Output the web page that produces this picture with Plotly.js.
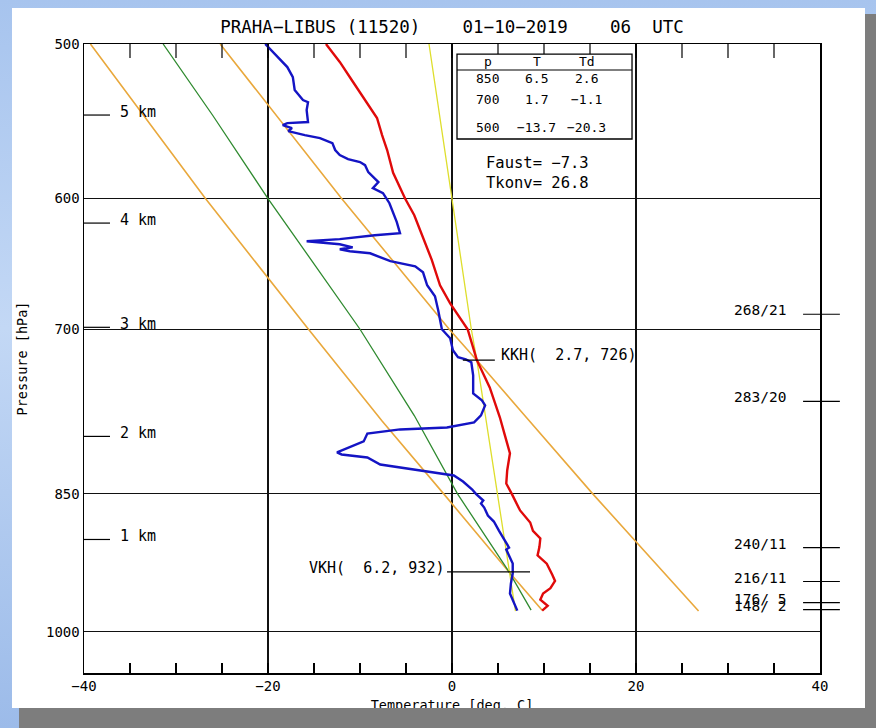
<!DOCTYPE html>
<html><head><meta charset="utf-8">
<script src="https://cdn.plot.ly/plotly-3.0.1.min.js"></script>
<style>
html,body{margin:0;padding:0;width:876px;height:728px;overflow:hidden;}
body{background:linear-gradient(180deg,#a7c4ee 0%,#c3d8f5 45%,#9cbbe9 100%);position:relative;}
#panel{position:absolute;left:12px;top:8px;width:853px;height:700px;background:#fff;}
#shR{position:absolute;left:865px;top:14px;width:11px;height:714px;background:#7d7d7d;}
#shB{position:absolute;left:19px;top:708px;width:857px;height:20px;background:#7d7d7d;z-index:5;}
#chart{position:absolute;left:0;top:0;width:876px;height:728px;z-index:2;}
</style></head><body>
<div id="panel"></div><div id="shR"></div>
<div id="chart"></div><div id="shB"></div>
<script>
// ---- data ----
const titleText = 'PRAHA\u2212LIBUS (11520)    01\u221210\u22122019    06  UTC';
const xTickVals = [-40, -20, 0, 20, 40];
const xMinorTicks = [-35, -30, -25, -20, -15, -10, -5, 0, 5, 10, 15, 20, 25, 30, 35];
const yTickVals = [500, 600, 700, 850, 1000];

// temperature profile (red)
const tempP = [500,510.7,521.7,534.2,545.6,556.7,566.6,582,600,611.9,628,645,664.6,679,700,726,749.7,776.6,793.4,810.3,826.9,839.7,850,866.8,879.2,888,896,905,914,923,935,942,950,956,963,970,975.5];
const tempT = [-13.7,-12.2,-10.9,-9.45,-8.15,-7.6,-7.05,-6.4,-5.1,-4.1,-3.15,-2.2,-1.3,-0.2,1.7,2.7,4.1,5.2,5.75,6.3,6.0,5.9,6.5,7.4,8.5,8.8,9.6,9.5,9.3,10.3,10.9,11.2,10.7,9.9,9.6,10.4,9.8];

// dew point profile (blue)
const dewP = [500,504.7,509.5,513.8,519.9,527.9,534.2,535.5,540.5,548.2,548.9,550.2,552.1,554.1,556.7,558.7,562,566.6,570,572.7,574.7,576.8,581.6,588.5,592.7,596.2,603.3,610.4,616.9,625,626.5,629.4,631,633.2,635.5,637,638.5,640,646,649.9,654.5,664.6,673.3,684.5,694.3,700,707.5,717.6,723.5,725.3,727.8,739.1,755,761.3,765.8,774.9,781.3,786,787.8,789.7,791.6,799,804.7,809.5,811.4,814.3,821.1,825,829.8,831.8,837.7,845.7,850,856.7,859.7,863.8,872,878.2,887.6,898.1,905.6,907.7,922.9,933.8,944.9,956.1,964,975.5];
const dewT = [-20.3,-19.5,-18.7,-17.9,-17.3,-17.1,-16.2,-15.65,-15.8,-15.65,-17.9,-18.4,-17.4,-17.8,-16.0,-14.35,-13.0,-12.7,-12.2,-11.3,-10.0,-9.45,-9.1,-8.0,-8.6,-7.5,-6.8,-6.4,-6.0,-5.65,-8.4,-12.2,-15.8,-12.2,-10.8,-12.2,-11.1,-8.9,-6.7,-4.0,-3.15,-2.7,-1.85,-1.5,-1.2,-1.1,-0.2,0.1,0.65,1.5,2.1,2.3,2.3,3.25,3.6,3.15,2.4,-0.55,-5.65,-7.5,-9.2,-9.6,-11.3,-12.5,-12.0,-9.2,-7.8,-4.8,-1.5,0.2,1.2,2.2,2.6,3.4,3.15,3.5,3.9,4.55,5.1,5.75,6.2,5.9,6.6,6.6,6.4,6.3,6.6,7.1];

// dry adiabat through VKH (orange, left)
const dryVKHP = [500,600,700,780,850,932,975];
const dryVKHT = [-39.3,-26.8,-15.6,-7.6,-0.9,6.2,9.8];
// dry adiabat through KKH down to Tkonv (orange, right)
const dryKKHP = [500,600,700,726,775,850,976];
const dryKKHT = [-25.2,-12.0,-0.3,2.7,7.9,15.3,26.8];
// moist adiabat through VKH (green)
const moistP = [500,544,600,700,775,850,932,975];
const moistT = [-31.4,-26.0,-20.0,-10.0,-4.1,0.6,6.2,8.6];
// mixing ratio line (yellow)
const mixP = [500,600,623,700,726,807,850,932,976];
const mixT = [-2.5,0.0,0.5,2.1,2.7,4.2,4.9,6.2,6.9];

// height marks (left)
const kmLabels = ['5 km','4 km','3 km','2 km','1 km'];
const kmP = [543.7,617.6,698.4,794.3,897];
// wind marks (right)
const windLabels = ['268/21','283/20','240/11','216/11','176/ 5','148/ 2'];
const windP = [687.7,762.2,905.6,942.6,966.3,974.4];

// table
const tblP = ['850','700','500'];
const tblT = [6.5,1.7,-13.7];
const tblTd = [2.6,-1.1,-20.3];
const faust = -7.3, tkonv = 26.8;
const kkh = {t:2.7, p:726};
const vkh = {t:6.2, p:932};

// ---- drawing ----
const MONO = 'DejaVu Sans Mono, monospace';
const L = v => Math.log10(v);
const fmt = v => (v < 0 ? '\u2212' : '') + Math.abs(v).toFixed(1);
const padL = (s, n) => (' '.repeat(Math.max(0, n - s.length)) + s);

function line(x, y, color, width) {
  return {type:'scatter', mode:'lines', x:x, y:y, line:{color:color, width:width}, hoverinfo:'skip', showlegend:false};
}
const pTop = yTickVals[0];
const traces = [
  line(dryVKHT, dryVKHP, '#e9a83c', 1.6),
  line(dryKKHT, dryKKHP, '#e9a83c', 1.6),
  line(moistT, moistP, '#2f8a2f', 1.3),
  line(mixT, mixP, '#dede2c', 1.3),
  line(dewT, dewP, '#1414c4', 2.4),
  line(tempT, tempP, '#e00a0a', 2.4),
  // mirrored ticks along the top border: vertical line markers, half clipped by the plot area
  {type:'scatter', mode:'markers', x:xMinorTicks, y:xMinorTicks.map(() => pTop), cliponaxis:true,
   marker:{symbol:'line-ns-open', size:20, color:'#000', line:{color:'#000', width:1.2}}, hoverinfo:'skip', showlegend:false}
];

const shapes = [];
const ann = [];
kmP.forEach((p, i) => {
  shapes.push({type:'line', xref:'paper', yref:'y', x0:0, x1:0.0353, y0:p, y1:p, line:{color:'#000', width:1.2}});
  ann.push({xref:'paper', yref:'y', x:0.0465, y:L(p), xanchor:'left', yanchor:'middle', yshift:3, text:kmLabels[i], showarrow:false, font:{family:MONO, size:15, color:'#000'}});
});
windP.forEach((p, i) => {
  shapes.push({type:'line', xref:'paper', yref:'y', x0:0.977, x1:1.027, y0:p, y1:p, line:{color:'#000', width:1.2}});
  ann.push({xref:'paper', yref:'y', x:0.956, y:L(p), xanchor:'right', yanchor:'middle', yshift:4, text:windLabels[i], showarrow:false, font:{family:MONO, size:14.5, color:'#000'}});
});
// KKH / VKH markers
shapes.push({type:'line', xref:'x', xsizemode:'pixel', xanchor:kkh.t, x0:-14, x1:18, yref:'y', y0:kkh.p, y1:kkh.p, line:{color:'#000', width:1.2}});
shapes.push({type:'line', xref:'x', xsizemode:'pixel', xanchor:vkh.t, x0:-62, x1:21, yref:'y', y0:vkh.p, y1:vkh.p, line:{color:'#000', width:1.2}});
ann.push({xref:'x', yref:'y', x:kkh.t, y:L(kkh.p), xanchor:'left', yanchor:'middle', xshift:22, yshift:5,
  text:'KKH(' + padL(kkh.t.toFixed(1), 5) + ', ' + kkh.p + ')', showarrow:false, font:{family:MONO, size:15, color:'#000'}});
ann.push({xref:'x', yref:'y', x:vkh.t, y:L(vkh.p), xanchor:'right', yanchor:'middle', xshift:-63, yshift:4,
  text:'VKH(' + padL(vkh.t.toFixed(1), 5) + ', ' + vkh.p + ')', showarrow:false, font:{family:MONO, size:15, color:'#000'}});

// table box
shapes.push({type:'rect', xref:'paper', yref:'paper', x0:0.5068, x1:0.7446, y0:0.849, y1:0.984, fillcolor:'#fff', line:{color:'#000', width:1.3}});
shapes.push({type:'line', xref:'paper', yref:'paper', x0:0.5068, x1:0.7446, y0:0.9587, y1:0.9587, line:{color:'#000', width:1.2}});
const colX = [0.5489, 0.6150, 0.6834];
const rowY = [0.9459, 0.9110, 0.8680];
const cell = (x, y, s) => ({xref:'paper', yref:'paper', x:x, y:y, xanchor:'center', yanchor:'middle', text:s, showarrow:false, font:{family:MONO, size:13, color:'#000'}});
['p','T','Td'].forEach((h, j) => ann.push(cell(colX[j], 0.9714, h)));
tblP.forEach((p, i) => {
  [p, fmt(tblT[i]), fmt(tblTd[i])].forEach((s, j) => ann.push(cell(colX[j], rowY[i], s)));
});
ann.push({xref:'paper', yref:'paper', x:0.5435, y:0.8108, xanchor:'left', yanchor:'middle', text:'Faust= ' + fmt(faust), showarrow:false, font:{family:MONO, size:15.5, color:'#000'}});
ann.push({xref:'paper', yref:'paper', x:0.5435, y:0.779, xanchor:'left', yanchor:'middle', text:'Tkonv= ' + fmt(tkonv), showarrow:false, font:{family:MONO, size:15.5, color:'#000'}});

const tickFont = {family:MONO, size:14, color:'#000'};
const layout = {
  width:876, height:728,
  margin:{l:84, r:56, t:44, b:55},
  paper_bgcolor:'rgba(0,0,0,0)', plot_bgcolor:'#fff',
  showlegend:false, hovermode:false,
  font:{family:MONO, color:'#000'},
  title:{text:titleText, font:{family:MONO, size:17.5, color:'#000'}, x:0.5, xref:'paper', xanchor:'center', y:1 - 27/728, yref:'container', yanchor:'middle'},
  xaxis:{range:[-40, 40], tickvals:xTickVals, ticktext:xTickVals.map(v => (v < 0 ? '\u2212' : '') + Math.abs(v)),
    showgrid:true, gridcolor:'#111', gridwidth:1.2, zeroline:false,
    showline:true, linecolor:'#000', linewidth:1.5, mirror:true,
    ticks:'inside', ticklen:10, tickwidth:1.2, tickcolor:'#000',
    minor:{tickvals:xMinorTicks, ticks:'inside', ticklen:10, tickwidth:1.2, tickcolor:'#000', showgrid:false},
    tickfont:tickFont, automargin:false,
    title:{text:'Temperature [deg. C]', font:{family:MONO, size:13.5, color:'#000'}, standoff:7}},
  yaxis:{type:'log', range:[L(1050), L(500)], tickvals:yTickVals, ticktext:yTickVals.map(String),
    showgrid:true, gridcolor:'#111', gridwidth:1.2, zeroline:false,
    showline:true, linecolor:'#000', linewidth:1.5, mirror:true, ticks:'',
    tickfont:tickFont, automargin:false,
    title:{text:'Pressure [hPa]', font:{family:MONO, size:13.5, color:'#000'}, standoff:15}},
  shapes:shapes, annotations:ann
};
Plotly.newPlot('chart', traces, layout, {staticPlot:true, displayModeBar:false});
</script></body></html>
